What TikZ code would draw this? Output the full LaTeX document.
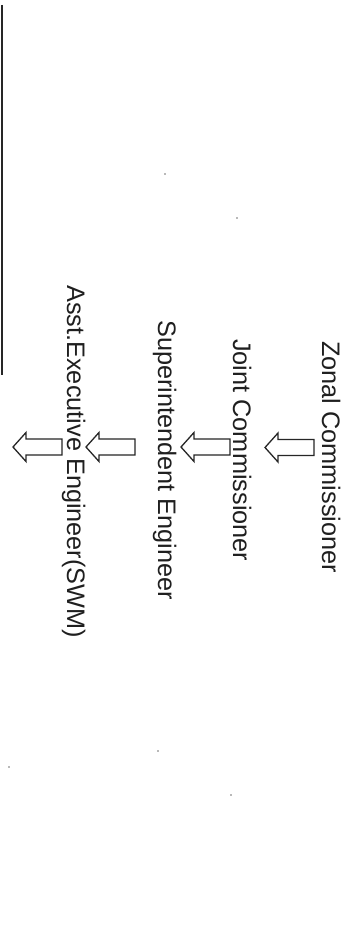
\documentclass[tikz,border=0pt]{standalone}
\usepackage{fontspec}
\setmainfont{Liberation Sans}
\begin{document}
\begin{tikzpicture}[x=1pt,y=-1pt,
  lbl/.style={rotate=-90, anchor=base west, inner sep=0pt,
    font=\fontsize{25.3}{30}\selectfont, text=black!88},
  speck/.style={fill=black!55},
  blockarrow/.pic={\draw[line width=1.3pt, line join=miter, black!85]
    (0,0) -- (13,-14.5) -- (13,-8) -- (49,-8) -- (49,8) -- (13,8) -- (13,14.5) -- cycle;}]
\useasboundingbox (0,0) rectangle (349,936);
\fill[white] (0,0) rectangle (349,936);
% left edge line
\coordinate (ltop) at (2.2,5);
\coordinate (lbot) at (2.2,375);
\draw[line width=1.8pt, black!85] (ltop) -- (lbot);
% labels
\node[lbl] (zonal) at (322,341) {Zonal Commissioner};
\node[lbl] (joint) at (233,339) {Joint Commissioner};
\node[lbl] (super) at (158,320) {Superintendent Engineer};
\node[lbl] (asst)  at (67,285)  {Asst.Executive Engineer(SWM)};
% block arrows
\pic (arrA) at (265,447.5) {blockarrow};
\pic (arrB) at (181,447) {blockarrow};
\pic (arrC) at (86,447) {blockarrow};
\pic (arrD) at (13,447) {blockarrow};
% scan specks
\fill[speck] (165,174) circle (0.9);
\fill[speck] (237,218) circle (0.9);
\fill[speck] (158,751) circle (0.9);
\fill[speck] (9,767) circle (0.9);
\fill[speck] (231,795) circle (0.9);
\end{tikzpicture}
\end{document}
